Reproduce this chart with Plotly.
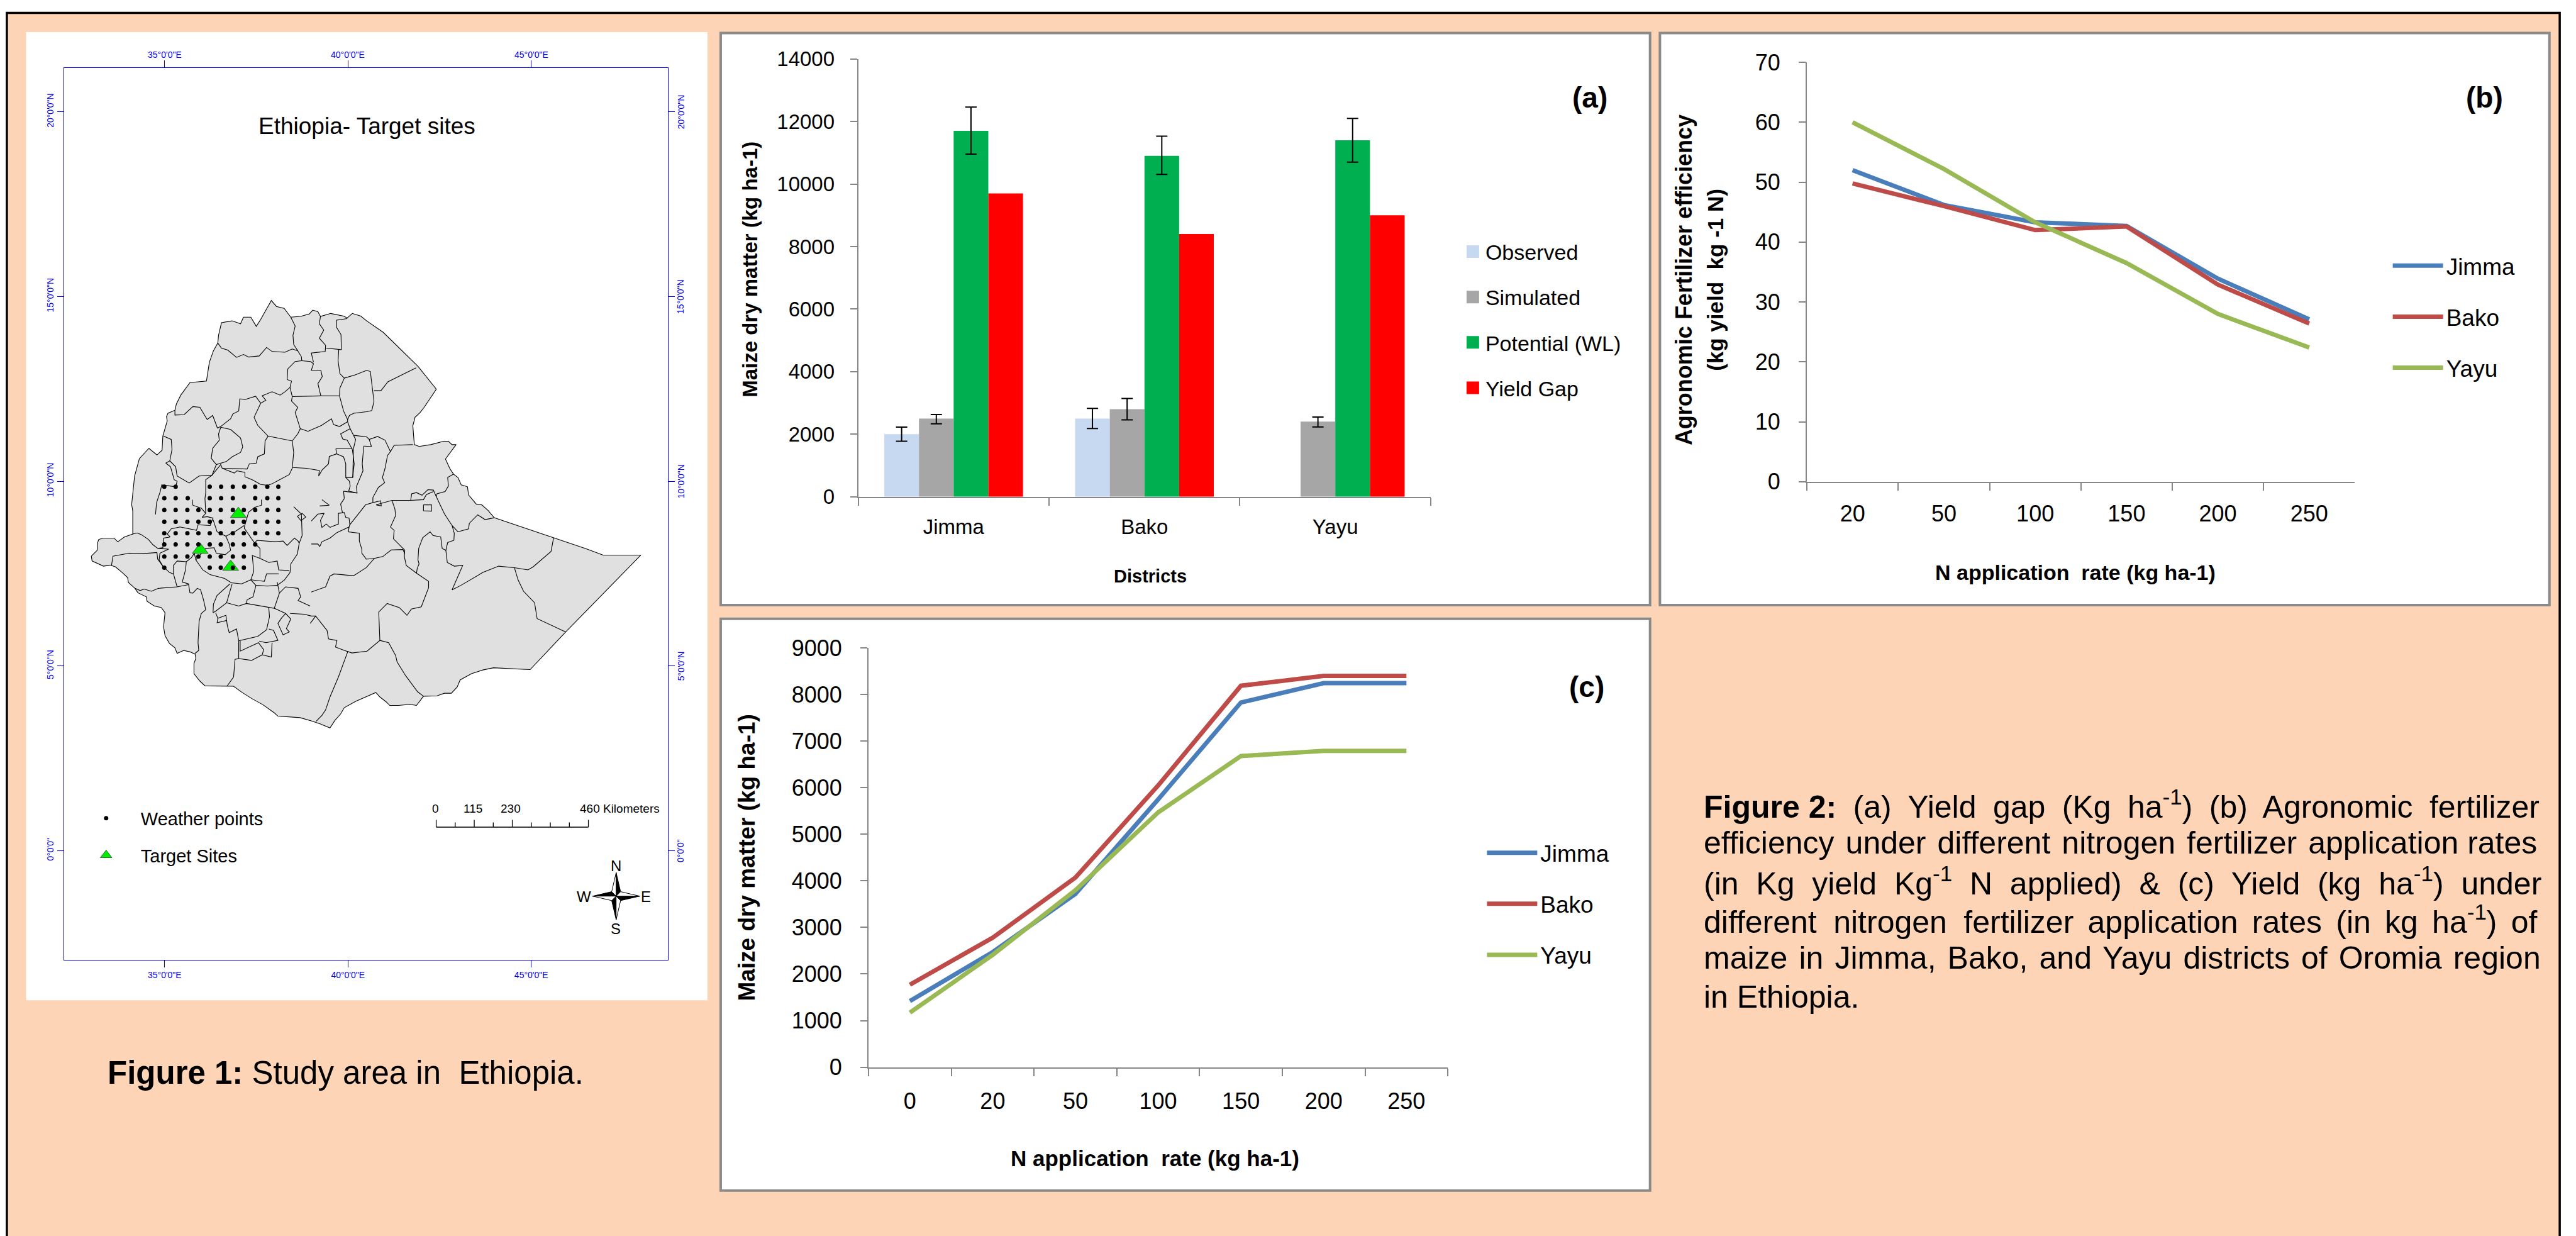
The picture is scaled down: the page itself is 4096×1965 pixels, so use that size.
import plotly.graph_objects as go

# ---------- data ----------
districts = ["Jimma", "Bako", "Yayu"]
observed = [2000, 2500, None]
simulated = [2500, 2800, 2400]
potential = [11700, 10900, 11400]
yield_gap = [9700, 8400, 9000]
observed_err_up = [225, 325, None]
observed_err_dn = [225, 320, None]
simulated_err_up = [130, 340, 150]
simulated_err_dn = [170, 340, 170]
potential_err_up = [760, 630, 700]
potential_err_dn = [745, 590, 700]

rates_b = ["20", "50", "100", "150", "200", "250"]
efficiency_jimma = [52.0, 46.2, 43.3, 42.7, 33.9, 27.1]
efficiency_bako = [49.8, 46.0, 42.0, 42.6, 32.9, 26.4]
efficiency_yayu = [60.0, 52.2, 43.3, 36.5, 28.0, 22.4]

rates_c = ["0", "20", "50", "100", "150", "200", "250"]
matter_jimma = [1420, 2470, 3720, 5750, 7830, 8245, 8245]
matter_bako = [1770, 2780, 4070, 6050, 8190, 8400, 8400]
matter_yayu = [1170, 2410, 3800, 5470, 6680, 6790, 6790]

target_lon = [37.01, 35.97, 36.80]
target_lat = [9.11, 8.14, 7.68]

weather_rows = [
    (9.85, [34.99, 35.30, 36.23, 36.54, 36.86, 37.17, 37.47, 37.80, 38.10]),
    (9.54, [34.99, 35.30, 35.63, 36.23, 36.54, 36.86, 37.47, 37.80, 38.10]),
    (9.22, [34.99, 35.30, 35.62, 35.92, 36.23, 36.53, 36.86, 37.16, 37.47, 37.80, 38.10]),
    (8.90, [34.99, 35.30, 35.62, 35.92, 36.23, 36.53, 36.86, 37.16, 37.47, 37.80, 38.10]),
    (8.59, [34.99, 35.30, 35.62, 35.92, 36.23, 36.53, 36.86, 37.16, 37.47, 37.80, 38.10]),
    (8.29, [34.99, 35.30, 35.62, 35.92, 36.23, 36.53, 36.86, 37.16, 37.47]),
    (7.96, [34.99, 35.30, 35.62, 35.92, 36.23, 36.53, 36.86, 37.16]),
    (7.66, [34.99, 36.23, 36.53, 36.86, 37.16]),
]

ethiopia_outline = [
    (36.45,13.74),(36.47,13.95),(36.55,14.29),(36.84,14.34),(37.07,14.26),(37.15,14.44),(37.35,14.44),
    (37.50,14.19),(37.62,14.38),(37.91,14.89),(38.05,14.73),(38.26,14.68),(38.44,14.44),(38.71,14.46),
    (38.95,14.53),(39.04,14.63),(39.18,14.59),(39.25,14.46),(39.53,14.54),(39.88,14.47),(39.98,14.42),
    (40.12,14.54),(40.35,14.47),(40.51,14.34),(40.96,14.03),(41.91,13.11),(42.41,12.49),(42.08,12.0),
    (41.96,11.85),(41.83,11.73),(41.77,11.5),(41.81,10.99),(41.94,10.94),(42.26,10.99),(42.61,11.08),
    (42.74,11.08),(42.84,10.99),(42.95,10.99),(42.66,10.6),(42.78,10.34),(42.88,10.19),(43.0,10.1),
    (43.09,9.9),(43.26,9.85),(43.29,9.63),(43.43,9.46),(43.5,9.38),(43.65,9.36),(43.82,9.21),(43.99,9.01),
    (45.61,8.47),(46.5,8.17),(46.96,8.0),(47.99,8.0),(45.94,5.92),(45.07,5.0),(45.01,4.95),(44.97,4.9),
    (44.77,4.91),(44.42,4.93),(43.97,4.95),(43.68,4.89),(43.37,4.79),(43.06,4.62),(42.98,4.43),(42.82,4.26),
    (42.63,4.26),(42.43,4.19),(42.06,4.18),(41.87,3.93),(41.69,3.96),(41.38,3.93),(41.14,3.93),(41.05,4.02),
    (40.87,4.16),(40.76,4.28),(40.48,4.16),(40.21,4.04),(39.9,3.87),(39.8,3.7),(39.64,3.52),(39.51,3.32),
    (39.25,3.43),(39.01,3.51),(38.69,3.6),(38.38,3.62),(38.09,3.64),(37.99,3.73),(37.68,3.95),(37.37,4.12),
    (37.1,4.29),(36.88,4.45),(36.51,4.45),(36.1,4.46),(35.96,4.59),(35.8,4.79),(35.8,5.07),(35.85,5.2),
    (35.83,5.32),(35.69,5.38),(35.52,5.42),(35.34,5.34),(35.28,5.49),(35.13,5.61),(35.01,5.82),(34.97,6.06),
    (35.01,6.44),(34.91,6.58),(34.72,6.62),(34.52,6.75),(34.5,6.87),(34.27,6.98),(34.19,7.1),(34.01,7.26),
    (33.99,7.39),(33.84,7.53),(33.66,7.68),(33.51,7.73),(33.33,7.7),(33.16,7.77),(33.02,7.84),(33.0,7.97),
    (33.16,8.13),(33.16,8.3),(33.2,8.42),(33.31,8.46),(33.62,8.46),(33.72,8.36),(33.9,8.49),(34.13,8.57),
    (34.13,9.19),(34.1,9.37),(34.18,10.14),(34.31,10.61),(34.57,10.89),(34.79,10.71),(34.93,10.84),
    (34.95,11.22),(35.07,11.63),(35.05,11.75),(35.09,11.84),(35.28,11.92),(35.32,12.09),(35.44,12.33),
    (35.55,12.48),(35.69,12.67),(36.14,12.71),(36.18,12.95),(36.22,13.22),(36.33,13.53),(36.45,13.74),
]

region_boundaries = [
    [(36.45,13.74),(36.55,13.6),(36.72,13.55),(36.96,13.35),(37.15,13.43),(37.29,13.36),(37.58,13.39),(37.78,13.62),(37.93,13.51),(38.28,13.49),(38.48,13.58),(38.63,13.53),(38.73,13.37),(38.74,13.26)],
    [(38.44,14.44),(38.56,14.2),(38.5,13.95),(38.52,13.7),(38.63,13.53)],
    [(39.25,14.46),(39.22,14.26),(39.34,14.09),(39.22,13.87),(39.39,13.68),(39.38,13.51),(39.0,13.47),(39.06,13.22)],
    [(39.98,14.4),(39.69,14.36),(39.69,14.16),(39.81,13.97),(39.82,13.56),(39.41,13.6)],
    [(39.75,13.56),(39.73,13.26),(39.78,12.91),(39.9,12.79),(39.78,12.52),(39.77,12.31),(39.28,12.31),(38.48,12.29)],
    [(38.74,13.26),(38.98,13.24),(39.06,13.18),(39.0,13.0),(39.26,13.0),(39.3,12.83),(39.18,12.64),(39.26,12.31)],
    [(38.74,13.26),(38.56,13.24),(38.36,13.04),(38.34,12.75),(38.46,12.71),(38.42,12.54),(38.48,12.29)],
    [(38.42,12.54),(38.28,12.42),(38.15,12.33),(37.93,12.42),(37.66,12.31),(37.76,12.19),(37.62,12.11),(37.48,12.3),(37.19,12.21),(37.05,12.23),(37.02,11.9),(36.86,11.82),(36.8,11.69),(36.53,11.48),(36.44,11.44),(36.31,11.78),(36.16,11.67),(35.96,12.0),(35.77,12.02),(35.53,11.8),(35.28,11.79),(35.28,11.92)],
    [(37.62,12.11),(37.44,11.73),(37.54,11.51),(37.82,11.22),(38.48,11.09),(38.63,11.28),(38.7,11.42),(38.61,11.69),(38.56,11.86),(38.63,12.0),(38.46,12.17),(38.48,12.29)],
    [(38.7,11.42),(38.91,11.35),(39.28,11.51),(39.55,11.69),(39.61,11.53),(39.77,11.48),(39.99,11.61)],
    [(39.77,12.31),(39.88,11.9),(39.99,11.67),(39.99,11.61),(40.06,11.42),(39.8,11.28),(39.86,11.14),(39.98,11.11),(40.12,10.86)],
    [(39.99,11.67),(40.04,11.78),(40.16,11.84),(40.51,11.88),(40.65,11.91),(40.71,12.16),(40.61,12.97),(40.51,13.0),(40.21,12.88),(39.9,12.79)],
    [(40.71,12.45),(40.9,12.45),(41.09,12.69),(41.86,13.07)],
    [(40.06,11.42),(40.16,11.24),(40.21,11.13),(40.15,10.88),(40.13,10.1)],
    [(40.16,11.24),(40.51,11.2),(40.58,11.13),(40.81,11.21),(41.01,11.11),(41.16,10.8)],
    [(40.43,10.95),(40.39,10.47),(40.41,10.28),(40.23,9.85),(40.25,9.68),(39.88,9.73),(39.9,9.53)],
    [(40.43,10.95),(40.64,10.94),(40.58,11.13)],
    [(39.67,10.88),(40.12,10.89)],
    [(39.67,10.88),(39.69,10.74),(39.49,10.67),(39.47,10.47),(39.3,10.31),(39.2,10.14),(39.22,10.29),(38.87,10.35),(38.49,10.37)],
    [(39.69,10.74),(39.88,10.66),(39.94,10.47),(39.94,10.1),(40.13,10.1),(40.17,10.47),(40.12,10.86)],
    [(39.94,10.1),(40.04,10.0),(40.06,9.87),(40.02,9.73),(40.25,9.68)],
    [(38.48,11.09),(38.52,10.78),(38.48,10.35),(38.4,10.18),(37.93,9.93),(37.82,9.89),(37.62,9.91),(37.39,10.04),(37.19,10.12),(37.19,10.24),(36.97,10.28),(36.9,10.22),(36.57,10.35)],
    [(36.53,11.46),(36.8,11.4),(37.07,11.17),(37.13,10.93),(37.07,10.78),(36.84,10.66),(36.68,10.53),(36.41,10.45),(36.27,10.62),(36.31,10.89),(36.49,11.11),(36.47,11.28),(36.53,11.46)],
    [(36.41,10.45),(36.29,10.16),(35.94,10.14),(35.67,9.95),(35.34,10.14),(35.3,10.39),(35.14,10.55),(35.2,10.86),(35.18,11.13),(34.97,11.22)],
    [(35.03,10.49),(35.14,10.55)],
    [(35.03,10.49),(35.16,10.39),(35.26,10.04),(35.34,10.0),(35.3,9.85),(34.92,9.9),(34.88,9.72),(34.78,9.42),(34.75,9.1)],
    [(37.82,11.22),(37.74,11.09),(37.72,10.74),(37.54,10.66),(37.5,10.49),(37.31,10.47),(37.25,10.33),(36.57,10.35),(36.53,10.45),(36.29,10.16),(36.12,10.04),(36.12,9.69),(36.1,9.53),(36.12,9.13)],
    [(35.75,9.5),(35.77,9.35),(36.0,9.27),(36.12,9.13),(36.02,9.02),(36.16,9.04),(36.32,9.0),(36.24,8.8),(35.91,8.82),(35.87,8.67),(35.42,8.76),(35.18,8.71),(35.07,8.57),(35.15,8.49),(34.97,8.46),(34.95,8.2),(34.81,8.18),(35.11,8.16),(34.87,8.05),(34.85,7.87),(34.95,7.7),(35.13,7.53),(35.24,7.49),(35.24,7.72),(35.34,7.84),(35.59,7.82),(35.57,7.6),(35.48,7.27),(35.65,7.22),(35.69,6.98),(35.77,6.97),(35.89,7.1),(35.98,7.06),(36.06,6.79),(36.12,6.52),(36.0,6.42),(35.94,6.21),(35.91,5.63),(35.93,5.42),(35.83,5.34)],
    [(35.24,7.49),(35.34,7.14)],
    [(34.19,7.1),(34.33,7.04),(34.44,7.08),(34.64,7.02),(34.83,7.1),(35.34,7.14),(35.65,7.2)],
    [(33.55,7.72),(33.59,7.97),(34.03,8.05),(34.42,8.04),(34.79,8.07),(34.81,7.89),(34.95,7.7)],
    [(34.13,8.57),(34.25,8.6),(34.37,8.55),(34.56,8.42),(34.68,8.28),(34.81,8.18)],
    [(35.59,7.82),(35.73,7.93),(35.81,8.05),(35.85,7.87),(36.04,7.6),(36.24,7.47),(36.63,7.37),(36.82,7.25),(37.1,7.22),(37.35,7.33),(37.43,7.56),(37.39,7.99),(37.6,7.91),(37.6,8.18),(37.45,8.33),(37.21,8.67),(37.17,8.73),(37.19,8.82),(37.29,9.16),(37.45,9.29),(37.64,9.35),(37.64,9.5)],
    [(36.32,8.96),(36.43,8.63),(36.67,8.51),(36.76,8.3),(36.8,8.13),(36.65,8.01),(36.41,8.05),(36.35,8.2),(36.12,8.18),(35.85,7.87)],
    [(36.67,8.51),(36.94,8.65),(37.17,8.8)],
    [(37.45,8.33),(37.52,8.4),(38.03,8.36),(38.23,8.38),(38.34,8.26),(38.46,8.38),(38.54,8.46),(38.64,8.38),(38.67,8.32)],
    [(38.52,9.31),(38.73,9.11),(38.75,8.53),(38.67,8.32),(38.62,8.03),(38.44,7.76),(38.42,7.53),(38.27,7.33),(38.07,7.18),(37.8,7.16),(37.49,7.18),(37.35,7.33)],
    [(37.6,7.91),(37.84,7.8),(38.07,7.84),(38.11,7.6),(38.4,7.58)],
    [(38.11,7.49),(37.78,7.49),(37.72,7.29),(37.35,7.33)],
    [(37.49,7.18),(37.41,6.87),(37.25,6.79),(37.23,6.69)],
    [(36.84,7.22),(36.69,6.71)],
    [(36.78,7.22),(36.43,6.91),(36.33,6.67),(36.32,6.44)],
    [(36.32,6.44),(36.39,6.48),(36.69,6.71),(37.02,6.62),(37.23,6.69),(37.84,6.58),(37.99,6.56),(38.13,6.97),(38.07,7.27)],
    [(38.13,6.97),(38.3,7.14),(38.64,7.1),(38.71,6.87),(38.64,6.77),(38.97,6.62)],
    [(37.84,6.58),(37.86,6.33),(37.78,5.98),(37.54,5.8),(37.02,5.68),(37.02,5.2),(36.92,5.18),(36.88,4.7),(36.7,4.45)],
    [(37.99,6.56),(38.3,6.42),(38.44,6.27),(38.32,6.01),(38.4,5.92),(38.23,5.84),(38.09,6.15),(38.19,6.3),(38.3,6.42)],
    [(38.42,6.42),(38.81,6.4),(39.0,6.35),(39.12,6.35)],
    [(39.0,7.0),(39.39,7.14),(39.51,7.43),(39.62,7.49),(40.15,7.44),(40.5,7.66),(40.72,7.91),(40.95,7.96),(41.18,8.14),(41.5,8.15),(41.55,8.03)],
    [(39.0,8.3),(39.18,8.3),(39.23,8.23),(39.29,8.36),(39.51,8.46),(39.7,8.61),(40.03,8.76),(40.05,8.82),(40.25,9.07),(40.48,9.36),(40.68,9.42),(40.68,9.56),(40.83,9.83),(41.0,9.96),(40.94,10.1),(41.01,10.34),(41.08,10.7),(41.16,10.8),(41.26,10.97),(41.77,10.99)],
    [(40.03,8.76),(40.01,8.63),(40.31,8.59),(40.31,8.38),(40.38,8.15),(40.38,8.05),(40.5,7.89),(40.72,7.91)],
    [(39.0,8.92),(39.18,9.11),(39.35,9.13),(39.25,8.94),(39.29,8.75),(39.41,8.84),(39.51,8.75),(39.74,8.84),(39.74,9.13),(39.9,9.15),(39.94,9.02),(40.03,9.0),(40.05,8.82)],
    [(39.85,9.15),(39.8,9.38),(39.9,9.53)],
    [(39.23,9.33),(39.49,9.35),(39.29,9.5)],
    [(40.68,9.42),(40.89,9.47),(40.91,9.33),(40.77,9.36),(41.2,9.48),(41.48,9.48),(41.71,9.48),(41.74,9.66),(41.87,9.69),(42.02,9.62),(42.18,9.77),(42.33,9.76),(42.41,9.58)],
    [(41.71,9.48),(42.06,9.5),(42.14,9.64),(42.33,9.72)],
    [(41.2,9.48),(41.28,9.25),(41.3,9.07),(41.16,8.76),(41.26,8.67),(41.24,8.44),(41.42,8.26),(41.55,8.13),(41.54,7.95),(41.59,7.72),(41.87,7.51)],
    [(41.87,7.51),(41.89,7.64),(41.94,7.76),(41.91,7.87),(41.93,8.18),(42.04,8.47),(42.24,8.63),(42.32,8.53),(42.53,8.49),(42.57,8.18),(42.67,8.13),(42.72,8.34),(42.89,8.4),(42.9,8.59),(42.84,8.8),(43.0,8.63),(43.29,8.71),(43.31,8.86),(43.54,9.09),(43.74,8.96),(43.99,9.01)],
    [(42.88,10.19),(42.72,10.1),(42.74,9.87),(42.65,9.72),(42.43,9.66),(42.41,9.58),(42.63,9.12),(42.84,8.8)],
    [(42.67,8.13),(42.71,7.8),(42.9,7.7),(43.13,7.72),(42.84,7.06),(43.08,7.18),(43.68,7.53),(44.11,7.7),(44.54,7.66),(44.91,7.6),(45.05,7.68),(45.54,8.1),(45.61,8.47)],
    [(44.54,7.66),(44.64,7.33),(44.79,7.02),(45.09,6.71),(45.16,6.28),(45.94,5.92)],
    [(41.87,7.51),(42.2,7.29),(42.2,7.12),(42.0,6.6),(41.73,6.54),(41.61,6.37),(41.4,6.58),(41.07,6.69),(40.84,6.46),(40.87,5.69),(40.52,5.4),(40.11,5.35),(39.9,5.42),(39.66,5.51),(39.7,5.69),(39.47,5.73),(39.43,5.96),(39.12,6.35),(38.97,6.15)],
    [(40.87,5.69),(41.11,5.63),(41.3,5.28),(41.34,5.11),(41.57,4.74),(41.9,4.3),(42.06,4.18)],
    [(40.0,5.4),(39.74,4.7),(39.51,4.16),(39.39,3.81),(39.29,3.66),(39.13,3.5)],
    [(37.06,5.68),(37.06,5.4),(37.56,5.63),(37.7,5.44),(37.66,5.3),(37.37,5.15),(37.02,5.2)],
    [(37.58,5.67),(37.76,5.63),(38.09,5.69),(37.97,5.96),(37.84,6.0)],
    [(37.93,5.63),(37.91,5.24),(37.66,5.3)],
    [(36.39,6.44),(36.45,6.29),(36.43,6.17),(36.69,6.23),(36.71,6.09),(36.76,5.9),(36.96,6.0),(37.02,5.68)],
    [(36.45,6.29),(36.67,6.37),(36.69,6.23)],
    [(42.06,9.36),(42.28,9.36),(42.28,9.19),(42.06,9.2),(42.06,9.36)],
    [(38.62,9.05),(38.75,9.13),(38.85,9.03),(38.72,8.93),(38.62,9.05)],
]

lon_ticks = [35, 40, 45]
lon_labels = ["35°0'0\"E", "40°0'0\"E", "45°0'0\"E"]
lat_ticks = [20, 15, 10, 5, 0]
lat_labels = ["20°0'0\"N", "15°0'0\"N", "10°0'0\"N", "5°0'0\"N", "0°0'0\""]

# ---------- reference pixel -> paper helpers (layout only) ----------
W, H = 6012, 2884
def px(v): return v / W
def py(v): return 1 - v / H

PEACH = "#FDD5B6"
AXIS = "#868686"
BLUE = "#0000F0"
TXT = "Liberation Sans"
C_J, C_B, C_Y = "#4A7EBB", "#BE4B48", "#98B954"

fig = go.Figure()

# Panel (a)
bar_series = [
    ("Observed", observed, "#C6D9F1", observed_err_up, observed_err_dn),
    ("Simulated", simulated, "#A6A6A6", simulated_err_up, simulated_err_dn),
    ("Potential (WL)", potential, "#00B050", potential_err_up, potential_err_dn),
    ("Yield Gap", yield_gap, "#FF0000", None, None),
]
for name, vals, col, up, dn in bar_series:
    kw = {}
    if up is not None:
        kw["error_y"] = dict(type="data", symmetric=False, array=up, arrayminus=dn,
                             color="#000000", thickness=2, width=9)
    fig.add_trace(go.Bar(x=districts, y=vals, name=name, marker=dict(color=col, line=dict(width=0)),
                         xaxis="x", yaxis="y", showlegend=False, **kw))
    fig.add_trace(go.Scatter(x=[None], y=[None], name=name, mode="markers", xaxis="x", yaxis="y",
                             marker=dict(symbol="square", size=16, color=col, line=dict(width=4, color=col)),
                             legend="legend", legendgroup=name))

# Panel (b)
for name, vals, col in [("Jimma", efficiency_jimma, C_J), ("Bako", efficiency_bako, C_B), ("Yayu", efficiency_yayu, C_Y)]:
    fig.add_trace(go.Scatter(x=rates_b, y=vals, name=name, mode="lines", line=dict(color=col, width=7),
                             xaxis="x2", yaxis="y2", legend="legend2", legendgroup="b" + name))

# Panel (c)
for name, vals, col in [("Jimma", matter_jimma, C_J), ("Bako", matter_bako, C_B), ("Yayu", matter_yayu, C_Y)]:
    fig.add_trace(go.Scatter(x=rates_c, y=vals, name=name, mode="lines", line=dict(color=col, width=7),
                             xaxis="x3", yaxis="y3", legend="legend3", legendgroup="c" + name))

# Map
fig.add_trace(go.Scatter(x=[p[0] for p in ethiopia_outline], y=[p[1] for p in ethiopia_outline],
                         mode="lines", fill="toself", fillcolor="#E0E0E0", line=dict(color="#000000", width=1.1),
                         xaxis="x4", yaxis="y4", showlegend=False, hoverinfo="skip"))
bx, by = [], []
for seg_pts in region_boundaries:
    bx += [p[0] for p in seg_pts] + [None]
    by += [p[1] for p in seg_pts] + [None]
fig.add_trace(go.Scatter(x=bx, y=by, mode="lines", line=dict(color="#000000", width=1.1),
                         xaxis="x4", yaxis="y4", showlegend=False, hoverinfo="skip"))
fig.add_trace(go.Scatter(x=target_lon, y=target_lat, mode="markers", name="Target Sites",
                         marker=dict(symbol="triangle-up", size=22, color="#00EE00", line=dict(width=0.7, color="#222222")),
                         xaxis="x4", yaxis="y4", legend="legend4", legendgroup="m2", legendrank=2))
wx, wy = [], []
for lat, lons in weather_rows:
    wx += lons
    wy += [lat] * len(lons)
fig.add_trace(go.Scatter(x=wx, y=wy, mode="markers", name="Weather points",
                         marker=dict(symbol="circle", size=7, color="#000000"),
                         xaxis="x4", yaxis="y4", legend="legend4", legendgroup="m1", legendrank=1))

# ---------- background shapes ----------
shapes = []
def rect(x0, y0, x1, y1, fill, line=None, lw=0):
    shapes.append(dict(type="rect", xref="paper", yref="paper", layer="below",
                       x0=px(x0), x1=px(x1), y0=py(y0), y1=py(y1), fillcolor=fill,
                       line=dict(color=line or fill, width=lw)))
rect(16, 30, 5974, 2900, PEACH, "#000000", 3.5)
rect(61, 75, 1651, 2334, "#FFFFFF")
rect(1682, 77, 3851, 1412, "#FFFFFF", "#8A8A8A", 4)
rect(3874, 77, 5950, 1412, "#FFFFFF", "#8A8A8A", 4)
rect(1682, 1444, 3851, 2778, "#FFFFFF", "#8A8A8A", 4)

# scale bar
def seg(x0, y0, x1, y1, w=1.3):
    shapes.append(dict(type="line", xref="paper", yref="paper", x0=px(x0), x1=px(x1), y0=py(y0), y1=py(y1),
                       line=dict(color="#000000", width=w)))
bar_x0, bar_step, bar_y = 1018, 44.4, 1930
seg(bar_x0, bar_y, bar_x0 + 8 * bar_step, bar_y)
for i in range(9):
    seg(bar_x0 + i * bar_step, bar_y, bar_x0 + i * bar_step, bar_y - (17 if i in (0, 2, 4, 8) else 11))

# compass
cx, cy, arm, inner = 1438, 2091, 55, 13
def tri(pts, fill):
    d = "M" + " L".join(f"{px(a):.6f},{py(b):.6f}" for a, b in pts) + " Z"
    shapes.append(dict(type="path", xref="paper", yref="paper", path=d, fillcolor=fill,
                       line=dict(color="#000000", width=1)))
tips = [(0, -1), (1, 0), (0, 1), (-1, 0)]
for i, (tx, ty) in enumerate(tips):
    tip = (cx + tx * arm, cy + ty * arm)
    nx, ny = tips[(i + 1) % 4]
    mx, my = tips[(i - 1) % 4]
    a = (cx + (tx + nx) * inner * .8, cy + (ty + ny) * inner * .8)
    b = (cx + (tx + mx) * inner * .8, cy + (ty + my) * inner * .8)
    tri([(cx, cy), tip, a], "#000000")
    tri([(cx, cy), tip, b], "#FFFFFF")

# ---------- annotations ----------
ann = []
def note(text, X, Y, size, bold=False, angle=0, anchor="center", color="#000000", family=TXT):
    ann.append(dict(text=f"<b>{text}</b>" if bold else text, xref="paper", yref="paper", x=px(X), y=py(Y),
                    showarrow=False, xanchor=anchor, yanchor="middle", textangle=angle,
                    font=dict(family=family, size=size, color=color)))

# top and right map labels
for lon, lab in zip(lon_ticks, lon_labels):
    ann.append(dict(text=lab, xref="x4", yref="paper", x=lon, y=py(128), showarrow=False, yanchor="middle",
                    font=dict(family=TXT, size=14, color=BLUE)))
for lat, lab in zip(lat_ticks, lat_labels):
    ann.append(dict(text=lab, xref="paper", yref="y4", x=px(1589), y=lat, showarrow=False, xanchor="center",
                    yanchor="middle", textangle=-90, font=dict(family=TXT, size=14, color=BLUE)))

note("Ethiopia- Target sites", 856, 294, 37)
for lab, X in [("0", 1017), ("115", 1104), ("230", 1192)]:
    note(lab, X, 1887, 19)
note("460 Kilometers", 1350, 1887, 19, anchor="left")
note("N", 1437, 2021, 24)
note("S", 1437, 2167, 24)
note("W", 1363, 2092, 24)
note("E", 1507, 2092, 24)

note("Maize dry matter (kg ha-1)", 1750, 629, 33, bold=True, angle=-90)
note("Districts", 2684, 1345, 29, bold=True)
note("(a)", 3710, 227, 46, bold=True)

note("Agronomic Fertilizer efficiency", 3931, 653, 36, bold=True, angle=-90)
note("(kg yield\u00a0\u00a0kg -1 N)", 4004, 653, 35, bold=True, angle=-90)
note("N application\u00a0\u00a0rate (kg ha-1)", 4844, 1336, 34, bold=True)
note("(b)", 5798, 227, 46, bold=True)

note("Maize dry matter (kg ha-1)", 1743, 2002, 37, bold=True, angle=-90)
note("N application\u00a0\u00a0rate (kg ha-1)", 2696, 2703, 35, bold=True)
note("(c)", 3703, 1603, 46, bold=True)

note("<b>Figure 1:</b> Study area in\u00a0\u00a0Ethiopia.", 248, 2503, 51, anchor="left")

hair = "\u200a"
# caption line, extra padding for the first n gaps, n, extra padding for the remaining gaps
fig2_lines = [
    ("<b>Figure\u00a02:</b> (a) Yield gap (Kg ha<sup>-1</sup>) (b) Agronomic fertilizer", hair * 3, 99, ""),
    ("efficiency under different nitrogen fertilizer application rates", hair, 5, ""),
    ("(in Kg yield Kg<sup>-1</sup> N applied) & (c) Yield (kg ha<sup>-1</sup>) under", "\u00a0", 99, ""),
    ("different nitrogen fertilizer application rates (in kg ha<sup>-1</sup>) of", hair * 3, 2, hair * 2),
    ("maize in Jimma, Bako, and Yayu districts of Oromia region", hair, 99, ""),
    ("in Ethiopia.", "", 0, ""),
]
fig2_y = [1877, 1967, 2056, 2146, 2236, 2326]
for (line, gap_a, n, gap_b), Y in zip(fig2_lines, fig2_y):
    parts = line.split(" ")
    text = parts[0]
    for i, part in enumerate(parts[1:]):
        text += (gap_a if i < n else gap_b) + " " + part
    note(text, 3973, Y, 50, anchor="left")

# ---------- axes ----------
def cat_axis(x0, x1, anchor, n, size, standoff):
    return dict(domain=[px(x0), px(x1)], anchor=anchor, type="category", tickson="boundaries",
                range=[-0.5, n - 0.5], automargin=False,
                showgrid=False, zeroline=False, showline=True, linecolor=AXIS, linewidth=2,
                ticks="outside", ticklen=12, tickwidth=2, tickcolor=AXIS, ticklabelstandoff=standoff,
                tickfont=dict(family=TXT, size=size, color="#000000"), fixedrange=True)
def val_axis(y_top, y_zero, anchor, rng, dtick, size, standoff):
    return dict(domain=[py(y_zero), py(y_top)], anchor=anchor, range=rng, dtick=dtick, tick0=0, automargin=False,
                exponentformat="none", tickformat="d",
                showgrid=False, zeroline=False, showline=True, linecolor=AXIS, linewidth=2,
                ticks="outside", ticklen=11, tickwidth=2, tickcolor=AXIS, ticklabelstandoff=standoff,
                tickfont=dict(family=TXT, size=size, color="#000000"), fixedrange=True)

def legend_style(X, Y, size, gap, **kw):
    return dict(x=px(X), y=py(Y), xanchor="left", yanchor="top", bgcolor="rgba(0,0,0,0)", borderwidth=0,
                font=dict(family=TXT, size=size, color="#000000"), tracegroupgap=gap, traceorder="grouped", **kw)

fig.update_layout(
    template="none",
    font=dict(family=TXT),
    width=4096, height=1965, margin=dict(l=0, r=0, t=0, b=0, pad=0), autosize=False,
    paper_bgcolor="#FFFFFF", plot_bgcolor="rgba(0,0,0,0)",
    barmode="group", bargap=0.273, bargroupgap=0,
    shapes=shapes, annotations=ann,
    showlegend=True, hovermode=False,
    xaxis=cat_axis(2003, 3339, "y", 3, 33, 18),
    yaxis=val_axis(137.5, 1159, "x", [0, 14000], 2000, 33, 18),
    xaxis2=cat_axis(4217, 5496, "y2", 6, 36, 18),
    yaxis2=val_axis(145.5, 1124, "x2", [0, 70], 10, 36, 22),
    xaxis3=cat_axis(2027, 3379, "y3", 7, 36, 21),
    yaxis3=val_axis(1512, 2490, "x3", [0, 9000], 1000, 36, 22),
    xaxis4=dict(domain=[px(149), px(1559)], anchor="y4", range=[32.25, 48.73], tickvals=lon_ticks, ticktext=lon_labels,
                automargin=False, showgrid=False, zeroline=False, showline=True, mirror="ticks", linecolor=BLUE, linewidth=1,
                ticks="outside", ticklen=11, tickwidth=1, tickcolor=BLUE, tickangle=0,
                tickfont=dict(family=TXT, size=14, color=BLUE), fixedrange=True),
    yaxis4=dict(domain=[py(2240), py(159)], anchor="x4", range=[-2.96, 21.18], tickvals=lat_ticks, ticktext=lat_labels,
                automargin=False, showgrid=False, zeroline=False, showline=True, mirror="ticks", linecolor=BLUE, linewidth=1,
                ticks="outside", ticklen=10, tickwidth=1, tickcolor=BLUE, tickangle=-90,
                tickfont=dict(family=TXT, size=14, color=BLUE), fixedrange=True),
    legend=legend_style(3408, 545, 34, 25),
    legend2=legend_style(5577, 575, 37, 30, itemwidth=80),
    legend3=legend_style(3463, 1945, 37, 30, itemwidth=80),
    legend4=legend_style(167, 1872, 29, 18, itemwidth=100),
)

fig.write_html("out.html", config=dict(displayModeBar=False),
               post_script="document.body.style.margin='0';document.body.style.overflow='hidden';")
